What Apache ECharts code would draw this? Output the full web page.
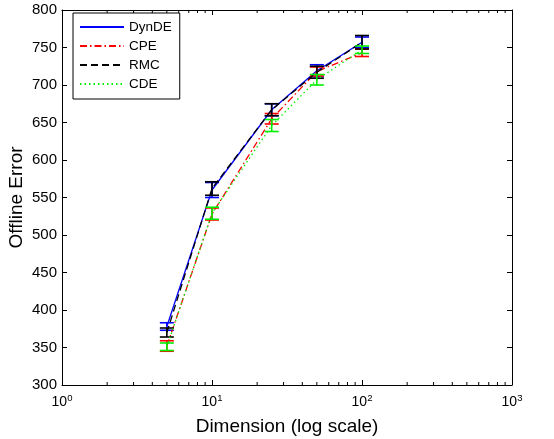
<!DOCTYPE html>
<html><head><meta charset="utf-8">
<script src="https://cdn.jsdelivr.net/npm/echarts@6/dist/echarts.min.js"></script>
<style>html,body{margin:0;padding:0;background:#fff;}#c{width:554px;height:439px;}</style>
</head><body><div id="c"></div>
<script>
const dims = [5, 10, 25, 50, 100];
const seriesNames = ['DynDE', 'CPE', 'RMC', 'CDE'];
const dynde = [378, 560, 667, 719, 757];
const dyndeErr = [5, 10, 8, 8, 7];
const cpe = [352, 528, 655, 718, 743];
const cpeErr = [7, 8, 7, 6, 5];
const rmc = [370, 562, 667, 717, 757];
const rmcErr = [6, 9, 8, 8, 9];
const cde = [351, 529, 646, 707, 747];
const cdeErr = [5, 8, 8, 7, 5];
const yTicks = [300, 350, 400, 450, 500, 550, 600, 650, 700, 750, 800];
const minorTickValues = [2,3,4,5,6,7,8,9,20,30,40,50,60,70,80,90,200,300,400,500,600,700,800,900];

const font = 'Liberation Sans, Arial, sans-serif';
const colors = ['#0000ff', '#ff0000', '#000000', '#00ee00'];
const means = [dynde, cpe, rmc, cde];
const errs = [dyndeErr, cpeErr, rmcErr, cdeErr];
const dashes = ['solid', [7, 3, 1.5, 3], [7, 4], [1.5, 3]];

const chart = echarts.init(document.getElementById('c'), null, {renderer: 'canvas'});

const series = [];
means.forEach((m, i) => {
  series.push({
    name: seriesNames[i], type: 'line', xAxisIndex: 0, yAxisIndex: 0,
    data: dims.map((d, k) => [d, m[k]]),
    symbol: 'none', z: 3 + i,
    lineStyle: {color: colors[i], width: 1.3, type: dashes[i]},
    itemStyle: {color: colors[i]},
    emphasis: {disabled: true}
  });
});
means.forEach((m, i) => {
  series.push({
    name: seriesNames[i], type: 'custom', xAxisIndex: 0, yAxisIndex: 0,
    data: dims.map((d, k) => [d, m[k] - errs[i][k], m[k] + errs[i][k]]),
    encode: {x: 0, y: [1, 2]}, z: 3 + i,
    renderItem: function (params, api) {
      const lo = api.coord([api.value(0), api.value(1)]);
      const hi = api.coord([api.value(0), api.value(2)]);
      const w = 7;
      const st = {stroke: colors[i], lineWidth: 1.6};
      return {type: 'group', children: [
        {type: 'line', shape: {x1: lo[0], y1: lo[1], x2: hi[0], y2: hi[1]}, style: st},
        {type: 'line', shape: {x1: lo[0] - w, y1: lo[1], x2: lo[0] + w, y2: lo[1]}, style: st},
        {type: 'line', shape: {x1: hi[0] - w, y1: hi[1], x2: hi[0] + w, y2: hi[1]}, style: st}
      ]};
    }
  });
});
series.push({
  type: 'custom', xAxisIndex: 0, yAxisIndex: 0, silent: true,
  data: minorTickValues.map(v => [v, 300]),
  encode: {x: 0, y: 1}, z: 10, clip: false,
  renderItem: function (params, api) {
    const b = api.coord([api.value(0), 300]);
    const t = api.coord([api.value(0), 800]);
    const st = {stroke: '#000', lineWidth: 1};
    return {type: 'group', children: [
      {type: 'line', shape: {x1: b[0], y1: b[1], x2: b[0], y2: b[1] - 3}, style: st},
      {type: 'line', shape: {x1: t[0], y1: t[1], x2: t[0], y2: t[1] + 3}, style: st}
    ]};
  }
});

const xBase = {
  type: 'log', logBase: 10, min: 1, max: 1000,
  axisLine: {show: true, lineStyle: {color: '#000', width: 1}},
  axisTick: {show: true, inside: true, length: 5, lineStyle: {color: '#000'}},
  splitLine: {show: false}, minorTick: {show: false}
};
const yBase = {
  type: 'value', min: 300, max: 800, interval: 50,
  axisLine: {show: true, lineStyle: {color: '#000', width: 1}},
  axisTick: {show: true, inside: true, length: 5, lineStyle: {color: '#000'}},
  splitLine: {show: false}
};

chart.setOption({
  animation: false,
  backgroundColor: '#fff',
  grid: {left: 62, right: 42, top: 10, bottom: 54, containLabel: false, outerBoundsMode: 'none'},
  legend: {
    data: seriesNames.map((n, i) => ({name: n, itemStyle: {opacity: 0}})),
    orient: 'vertical', left: 73, top: 13,
    backgroundColor: '#fff', borderColor: '#000', borderWidth: 1,
    padding: [7, 8, 8, 6], itemGap: 5, itemWidth: 44, itemHeight: 14,
    textStyle: {fontFamily: font, fontSize: 13.5, color: '#000'},
    selectedMode: false
  },
  xAxis: [
    Object.assign({}, xBase, {
      position: 'bottom',
      name: 'Dimension (log scale)', nameLocation: 'middle', nameGap: 32, nameMoveOverlap: false,
      nameTextStyle: {fontFamily: font, fontSize: 19, color: '#000'},
      axisLabel: {
        margin: 8, color: '#000', fontFamily: font, fontSize: 14,
        formatter: function (v) { return '10{sup|' + Math.round(Math.log10(v)) + '}'; },
        rich: {sup: {fontSize: 9.5, fontFamily: font, color: '#000', verticalAlign: 'top', padding: [0, 0, 9, 0]}}
      }
    }),
    Object.assign({}, xBase, {position: 'top', axisLabel: {show: false}})
  ],
  yAxis: [
    Object.assign({}, yBase, {
      position: 'left',
      name: 'Offline Error', nameLocation: 'middle', nameGap: 36, nameMoveOverlap: false,
      nameTextStyle: {fontFamily: font, fontSize: 19, color: '#000'},
      axisLabel: {margin: 5, color: '#000', fontFamily: font, fontSize: 15,
        formatter: function (v) { return yTicks.indexOf(v) >= 0 ? String(v) : ''; }}
    }),
    Object.assign({}, yBase, {position: 'right', axisLabel: {show: false}})
  ],
  series: series
});
</script></body></html>
